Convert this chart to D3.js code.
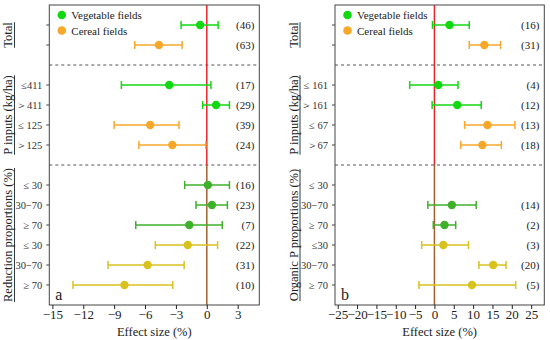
<!DOCTYPE html>
<html><head><meta charset="utf-8">
<script src="https://cdn.jsdelivr.net/npm/d3@7"></script>
<style>body{margin:0;background:#fff}</style>
</head><body><svg id="c" width="550" height="340"></svg>
<script>
// ---------- data ----------
// row slot (1..14) for each entry; slots 3 and 8 are group separators
const seriesNames = ["Vegetable fields", "Cereal fields"];
const slotsA = [1,2,4,5,6,7,9,10,11,12,13,14];
const labelsA = ["", "", "≤411", "＞411", "≤ 125", "＞125", "≤ 30", "30−70", "≥ 70", "≤ 30", "30−70", "≥ 70"];
const seriesA = ["veg","cer","veg","veg","cer","cer","veg2","veg2","veg2","cer2","cer2","cer2"];
const meanA = [-0.65,-4.65,-3.65,0.9,-5.5,-3.35,0.1,0.5,-1.7,-1.85,-5.75,-8.0];
const lowA  = [-2.5,-7.0,-8.3,-0.4,-9.0,-6.6,-2.15,-1.05,-6.9,-5.0,-9.6,-13.0];
const highA = [1.1,-2.4,0.4,2.2,-2.7,-0.1,2.2,2.0,1.5,1.05,-2.2,-3.3];
const nA    = ["(46)","(63)","(17)","(29)","(39)","(24)","(16)","(23)","(7)","(22)","(31)","(10)"];
const groupsA = ["Total","P inputs (kg/ha)","Reduction proportions (%)"];
const ticksA = [-15,-12,-9,-6,-3,0,3];

const slotsB = [1,2,4,5,6,7,9,10,11,12,13,14];
const labelsB = ["", "", "≤ 161", "＞161", "≤ 67", "＞67", "≤ 30", "30−70", "≥ 70", "≤30", "30−70", "≥ 70"];
const seriesB = ["veg","cer","veg","veg","cer","cer","veg2","veg2","veg2","cer2","cer2","cer2"];
const meanB = [3.9,12.9,1.0,5.9,13.7,12.4,null,4.5,2.6,2.3,15.2,9.7];
const lowB  = [-0.5,9.0,-6.4,-0.6,7.8,6.8,null,-1.7,-0.3,-3.3,11.5,-4.0];
const highB = [9.0,17.1,6.1,12.1,20.8,17.3,null,10.8,5.5,8.8,18.5,21.0];
const nB    = ["(16)","(31)","(4)","(12)","(13)","(18)","","(14)","(2)","(3)","(20)","(5)"];
const groupsB = ["Total","P inputs (kg/ha)","Organic P proportions (%)"];
const ticksB = [-25,-20,-15,-10,-5,0,5,10,15,20,25];

const colors = {veg:"#12d812", cer:"#f7a82a", veg2:"#3fb02a", cer2:"#d9c21e"};
const groupSpans = [[1,2],[4,7],[9,14]];
const separators = [3,8];
const FONT = "'Liberation Serif','DejaVu Serif',serif";

const svg = d3.select("#c");

function txt(g){ return g.append("text").attr("font-family",FONT).attr("fill","#222"); }

function panel(o){
  const x = d3.scaleLinear().domain(o.domain).range([o.x0, o.x1]);
  const y = d3.scaleLinear().domain([0,15]).range([5,305]);
  const g = svg.append("g");
  separators.forEach(s=>{
    g.append("line").attr("x1",o.x0).attr("x2",o.x1).attr("y1",y(s)).attr("y2",y(s))
      .attr("stroke","#555").attr("stroke-width",1).attr("stroke-dasharray","3,3");
  });
  g.append("line").attr("x1",x(0)).attr("x2",x(0)).attr("y1",y(0)).attr("y2",y(8))
    .attr("stroke","#e8252b").attr("stroke-width",1.5);
  g.append("line").attr("x1",x(0)).attr("x2",x(0)).attr("y1",y(8)).attr("y2",y(15))
    .attr("stroke","#a0622e").attr("stroke-width",1.5);
  const rows = o.slots.map((s,i)=>({s, lab:o.labels[i], ser:o.series[i], m:o.mean[i], lo:o.low[i], hi:o.high[i], n:o.n[i]}));
  const dr = rows.filter(r=>r.m!=null);
  const cap = 4;
  dr.forEach(r=>{
    const c = colors[r.ser], yy = y(r.s);
    g.append("line").attr("x1",x(r.lo)).attr("x2",x(r.hi)).attr("y1",yy).attr("y2",yy).attr("stroke",c).attr("stroke-width",1.5);
    [r.lo,r.hi].forEach(v=>g.append("line").attr("x1",x(v)).attr("x2",x(v)).attr("y1",yy-cap).attr("y2",yy+cap).attr("stroke",c).attr("stroke-width",1.5));
    g.append("circle").attr("cx",x(r.m)).attr("cy",yy).attr("r",4.2).attr("fill",c);
  });
  rows.forEach(r=>{
    txt(g).attr("x",o.x1-5).attr("y",y(r.s)+4).attr("text-anchor","end").attr("font-size",11).text(r.n);
  });
  g.append("rect").attr("x",o.x0).attr("y",y(0)).attr("width",o.x1-o.x0).attr("height",y(15)-y(0))
    .attr("fill","none").attr("stroke","#444").attr("stroke-width",1);
  const ax = g.append("g").attr("transform",`translate(0,${y(15)})`)
    .call(d3.axisBottom(x).tickValues(o.ticks).tickSize(4).tickSizeOuter(0).tickFormat(d=>d<0?"−"+(-d):d));
  ax.attr("font-family",FONT);
  ax.select(".domain").remove();
  ax.selectAll("line").attr("stroke","#222");
  ax.selectAll("text").attr("font-size",13).attr("fill","#222").attr("y",5).attr("dy","0.72em");
  txt(g).attr("x",(o.x0+o.x1)/2).attr("y",336).attr("text-anchor","middle").attr("font-size",12.5).text("Effect size (%)");
  rows.forEach(r=>{
    g.append("line").attr("x1",o.x0-3).attr("x2",o.x0).attr("y1",y(r.s)).attr("y2",y(r.s)).attr("stroke","#444");
    if(r.lab) txt(g).attr("x",o.x0-7).attr("y",y(r.s)+4).attr("text-anchor","end")
      .attr("font-size",10.5).attr("fill","#333").text(r.lab);
  });
  o.groups.forEach((t,i)=>{
    const [a,b] = groupSpans[i];
    const cy = (y(a)+y(b))/2;
    const tx = txt(g).attr("transform",`translate(${o.gx},${cy}) rotate(-90)`)
      .attr("text-anchor","middle").attr("font-size",12.5).text(t);
    const w = tx.node().getComputedTextLength();
    g.append("line").attr("x1",o.gx+2.5).attr("x2",o.gx+2.5).attr("y1",cy-w/2).attr("y2",cy+w/2)
      .attr("stroke","#222").attr("stroke-width",0.9);
  });
  seriesNames.forEach((s,i)=>{
    const ly = 15 + i*15.5;
    g.append("circle").attr("cx",o.x0+12.5).attr("cy",ly).attr("r",4.3).attr("fill",colors[i?"cer":"veg"]);
    txt(g).attr("x",o.x0+22).attr("y",ly+4).attr("font-size",11).text(s);
  });
  txt(g).attr("x",o.x0+6).attr("y",300).attr("font-size",16).text(o.letter);
}

panel({x0:49.3, x1:259.3, domain:[-15.3,5.1], slots:slotsA, labels:labelsA, series:seriesA,
  mean:meanA, low:lowA, high:highA, n:nA, groups:groupsA, ticks:ticksA, gx:12, letter:"a"});
panel({x0:335, x1:544.3, domain:[-25.7,28.4], slots:slotsB, labels:labelsB, series:seriesB,
  mean:meanB, low:lowB, high:highB, n:nB, groups:groupsB, ticks:ticksB, gx:297.5, letter:"b"});
</script></body></html>
